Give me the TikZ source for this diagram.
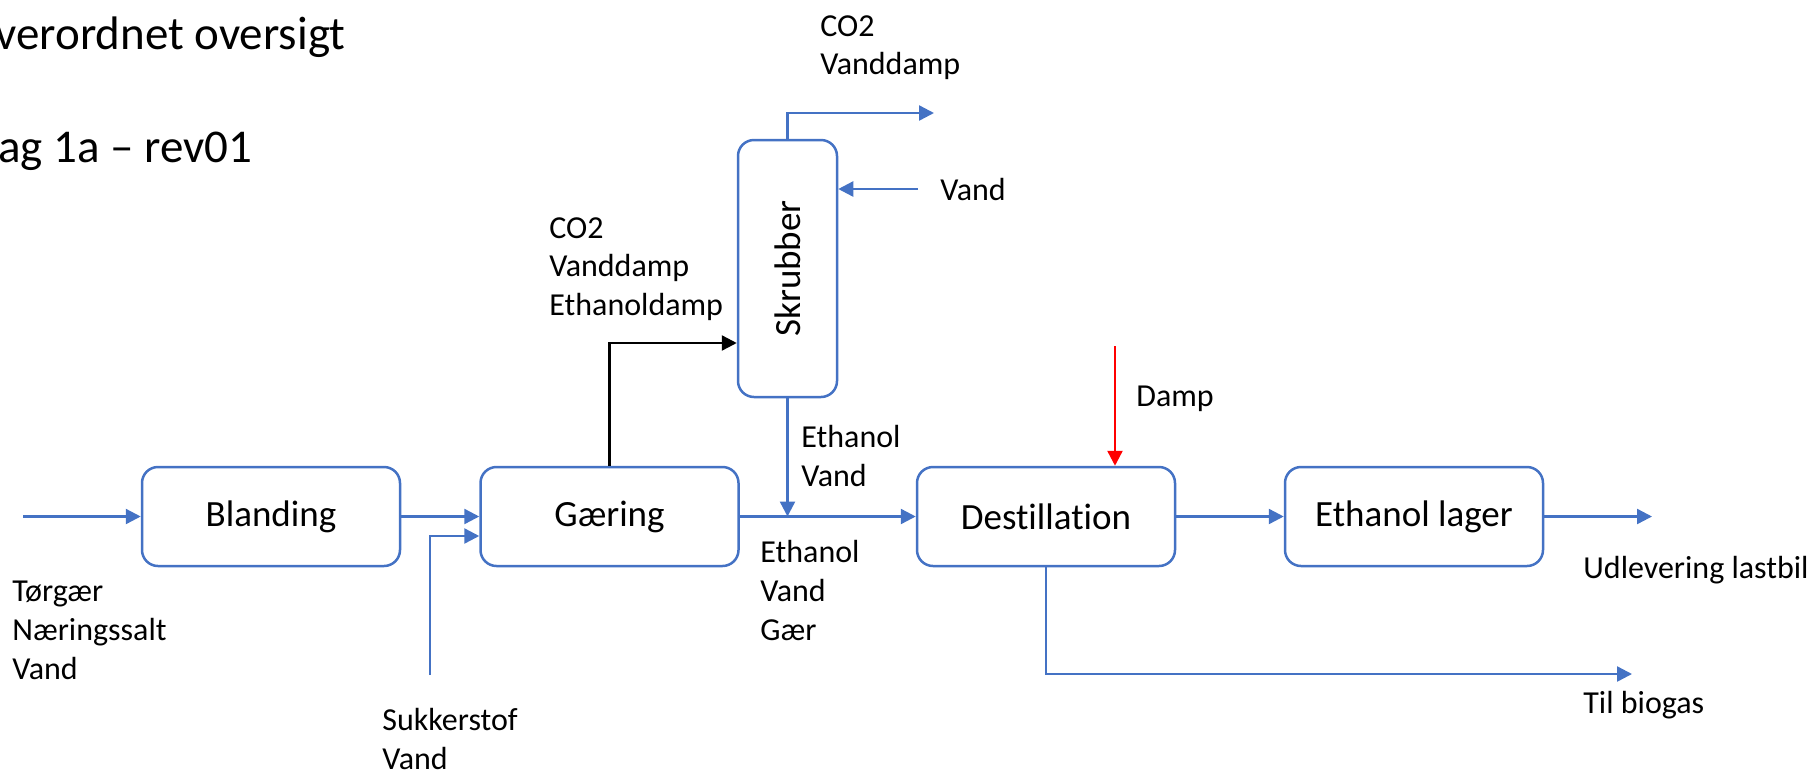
\documentclass[tikz,border=0pt]{standalone}
\usepackage{fontspec}
\usepackage{graphicx}
\setmainfont[Ligatures=NoCommon]{Carlito}
\usetikzlibrary{arrows.meta}
\definecolor{flowblue}{HTML}{4472C4}
\definecolor{steamred}{HTML}{FF0000}
\begin{document}
\begin{tikzpicture}[x=0.5pt,y=-0.5pt,
  proc/.style={draw=flowblue, line width=1.25pt, rounded corners=8pt, inner sep=0,
    font=\fontsize{18.5}{22}\selectfont},
  flowtip/.style={-{Triangle[length=7.5pt,width=7.5pt]}},
  flow/.style={draw=flowblue, line width=1.2pt, flowtip},
  gasflow/.style={draw=black, line width=1.2pt, flowtip},
  steam/.style={draw=steamred, line width=1.2pt, flowtip},
  lbl/.style={anchor=north west, inner sep=0, align=left,
    font=\fontsize{16}{19.35}\selectfont},
  ttl/.style={anchor=base west, inner sep=0, font=\fontsize{23.5}{28}\selectfont}
]
\useasboundingbox (0,0) rectangle (1816,772);

% title (cut off at the left edge)
\node[ttl] (t1) at (-5,49) {verordnet oversigt};
\node[ttl] (t2) at (-2,162) {ag 1a – rev01};

% process boxes
\node[proc, minimum width=129pt, minimum height=49.5pt] (blanding) at (271,516.5) {Blanding};
\node[proc, minimum width=129pt, minimum height=49.5pt] (gaering) at (609.5,516.5) {Gæring};
\node[proc, minimum width=129pt, minimum height=49.5pt] (destil) at (1046,516.5) {Destillation};
\node[proc, minimum width=129pt, minimum height=49.5pt] (lager) at (1414,516.5) {Ethanol lager};
\node[proc, minimum width=49.5pt, minimum height=128.5pt] (skrub) at (787.5,268.5) {\rotatebox{90}{Skrubber}};

% free ends
\coordinate (inA) at (23,516.5);
\coordinate (sukA) at (430,675);
\coordinate (merge) at (787.5,516.5);
\coordinate (topout) at (934,113);
\coordinate (vandin) at (918,189);
\coordinate (dampin) at (1115,346);
\coordinate (udl) at (1652,516.5);
\coordinate (bio) at (1632,674);

% connectors
\draw[flow] (inA) -- (blanding.west);
\draw[flow] (blanding.east) -- (gaering.west);
\draw[flow] (sukA) |- ([yshift=-9.75pt]gaering.west);
\draw[flow] (gaering.east) -- (destil.west);
\draw[flow] (skrub.south) -- (merge);
\draw[gasflow] (gaering.north) |- ([yshift=-37.25pt]skrub.west);
\draw[flow] (skrub.north) |- (topout);
\draw[flow] (vandin) -- (skrub.east |- vandin);
\draw[steam] (dampin) -- (destil.north -| dampin);
\draw[flow] (destil.east) -- (lager.west);
\draw[flow] (lager.east) -- (udl);
\draw[flow] (destil.south) |- (bio);

% labels
\node[lbl] (l1) at (12,581) {Tørgær\\Næringssalt\\Vand};
\node[lbl] (l2) at (382,708) {Sukkerstof\\Vand};
\node[lbl] (l3) at (549,217) {CO2\\Vanddamp\\Ethanoldamp};
\node[lbl] (l4) at (801,425) {Ethanol\\Vand};
\node[lbl] (l5) at (760,540) {Ethanol\\Vand\\Gær};
\node[lbl] (l6) at (820,15) {CO2\\Vanddamp};
\node[lbl] (l7) at (940,178) {Vand};
\node[lbl] (l8) at (1136,386) {Damp};
\node[lbl] (l9) at (1583,556) {Udlevering lastbil};
\node[lbl] (l10) at (1583,691) {Til biogas};
\end{tikzpicture}
\end{document}
